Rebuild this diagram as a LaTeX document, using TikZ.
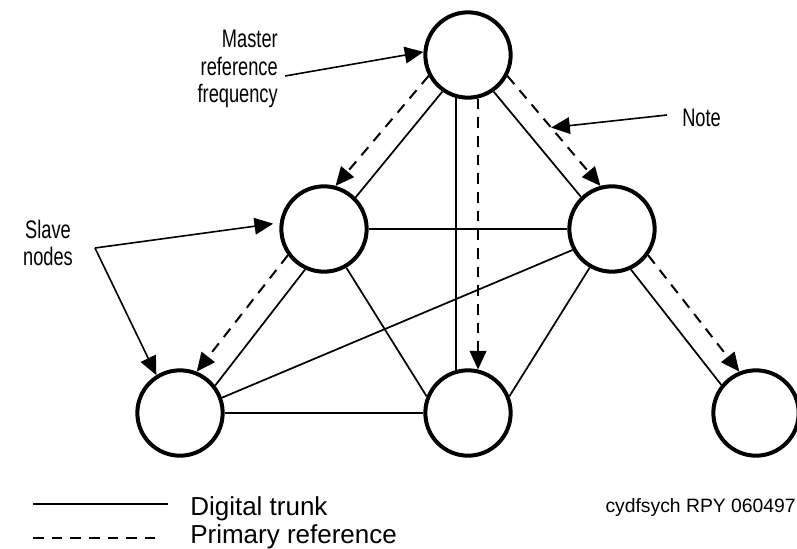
\documentclass[tikz,border=0pt]{standalone}
\usepackage{fontspec}
\setmainfont{Liberation Sans}
\newfontfamily\narrowsans{Liberation Sans}[FakeStretch=0.72]
\usetikzlibrary{
  arrows.meta,
  positioning,
  calc}
\tikzset{every picture/.style={font=\fontsize{19.5}{22}\selectfont}}

\begin{document}
\begin{tikzpicture}[x=0.75pt, y=-0.75pt,
  >={Triangle[length=14pt, width=12.5pt]},
  station/.style={circle, draw, line width=3pt, minimum size=64pt, inner sep=0pt},
  trunk/.style={line width=1.3pt},
  primary/.style={line width=1.5pt, dash pattern=on 8pt off 6pt},
  pointer/.style={->, line width=1.2pt},
  label text/.style={inner sep=0pt},
  callout text/.style={inner sep=0pt, font=\narrowsans\fontsize{19}{20.5}\selectfont}]
\useasboundingbox (0,0) rectangle (797,549);

\node[station] (master) at (468,55) {};
\node[station, on grid, below left = 130.5pt and 108pt of master](slave_left){};
\node[station, on grid, below right = 130.5pt and 108pt of master](slave_right){};
\node[station, on grid, below left = 138pt and 108pt of slave_left](slave_bottom_left){};
\node[station, on grid, below right = 138pt and 108pt of slave_left](slave_bottom_mid){};
\node[station, on grid, below right = 138pt and 108pt of slave_right](slave_bottom_right){};

\draw[trunk](master.235) -- (slave_left.45.5);
\draw[trunk](master.254) -- (slave_bottom_mid.106);
\draw[trunk](master.305) -- (slave_right.134.5);
\draw[trunk](slave_left.east) -- (slave_right.west);
\draw[trunk](slave_left.245) -- (slave_bottom_left.38.5);
\draw[trunk](slave_left.300) -- (slave_bottom_mid.158);
\draw[trunk](slave_right.240) -- (slave_bottom_mid.22);
\draw[trunk](slave_right.208) -- (slave_bottom_left.20);
\draw[trunk](slave_right.295) -- (slave_bottom_right.141.5);
\draw[trunk](slave_bottom_left.east) -- (slave_bottom_mid.west);

\draw[primary, ->](master.208) -- (slave_left.75);
\draw[primary, ->](master.283) -- (slave_bottom_mid.77);
\draw[primary, ->](master.332) -- (slave_right.105);
\draw[primary, ->](slave_left.216) -- (slave_bottom_left.68);
\draw[primary, ->](slave_right.324) -- (slave_bottom_right.112);

\node[callout text, anchor=east, align=right](master_label) at (278,69){Master\\reference\\frequency};
\coordinate (master_tail) at (285,76);
\draw[pointer](master_tail) -- (master.176);

\node[callout text, anchor=base west](note_label) at (682,127){Note};
\coordinate (note_tail) at (667,115);
\draw[pointer](note_tail) -- ($(master.332)!0.47!(slave_right.105)$);

\node[callout text, align=center](slave_label) at (48,243){Slave\\nodes};
\coordinate (slave_fork) at (95,248);
\draw[pointer, shorten >=5pt](slave_fork) -- (slave_left.172);
\draw[pointer](slave_fork) -- (slave_bottom_left.122);

\coordinate (trunk_start) at (33,504);
\coordinate (trunk_end) at (168,504);
\draw[trunk](trunk_start) -- (trunk_end);
\node[label text, anchor=base west](trunk_text) at (190,515){Digital trunk};

\coordinate (primary_start) at (33,538);
\coordinate (primary_end) at (155,538);
\draw[primary](primary_start) -- (primary_end);
\node[label text, anchor=base west](primary_text) at (190,543){Primary reference};

\node[label text, anchor=base east, font=\fontsize{14.5}{16}\selectfont](figure_code) at (796,512){cydfsych RPY 060497};
\end{tikzpicture}
\end{document}
